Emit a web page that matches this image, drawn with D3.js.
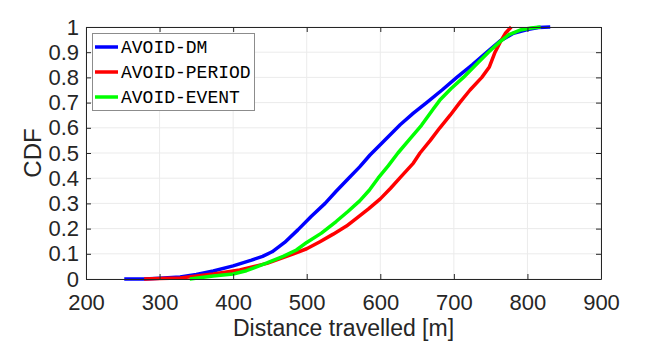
<!DOCTYPE html>
<html>
<head>
<meta charset="utf-8">
<script src="https://cdn.jsdelivr.net/npm/d3@7"></script>
<style>
  body { margin: 0; background: #fff; }
  svg { display: block; }
</style>
</head>
<body>
<div id="graph"></div>
<script>
// values (distance in m, cdf)
const dmX = [252, 280, 300, 328, 350, 373, 400, 425, 440, 453, 470, 488, 506, 525, 540, 557, 572, 586, 604, 627, 645, 663, 684, 704, 725, 745, 763, 781, 800, 815, 831];
const dmY = [0, 0, 0.003, 0.008, 0.018, 0.032, 0.052, 0.075, 0.09, 0.108, 0.145, 0.195, 0.248, 0.3, 0.348, 0.4, 0.445, 0.492, 0.545, 0.612, 0.658, 0.7, 0.75, 0.8, 0.85, 0.9, 0.945, 0.975, 0.99, 0.998, 1.0];

const periodX = [279, 300, 328, 373, 409, 446, 482, 500, 518, 536, 554, 568, 584, 600, 614, 627, 645, 654, 668, 681, 695, 708, 722, 738, 748, 756, 763, 770, 778];
const periodY = [0, 0.002, 0.004, 0.02, 0.036, 0.062, 0.1, 0.12, 0.148, 0.178, 0.21, 0.242, 0.278, 0.318, 0.36, 0.402, 0.46, 0.5, 0.55, 0.6, 0.65, 0.7, 0.75, 0.8, 0.84, 0.9, 0.94, 0.975, 1.0];

const eventX = [341, 373, 400, 418, 446, 468, 486, 500, 520, 540, 556, 572, 585, 597, 611, 624, 640, 656, 672, 681, 696, 713, 730, 747, 762, 775, 790, 805, 818];
const eventY = [0, 0.012, 0.02, 0.033, 0.064, 0.09, 0.115, 0.145, 0.182, 0.228, 0.268, 0.31, 0.352, 0.4, 0.45, 0.5, 0.555, 0.61, 0.675, 0.71, 0.755, 0.8, 0.85, 0.9, 0.94, 0.97, 0.988, 0.996, 1.0];

const seriesNames = ['AVOID-DM', 'AVOID-PERIOD', 'AVOID-EVENT'];
const seriesColors = ['#0000ff', '#ff0000', '#00ff00'];
const xTicks = [200, 300, 400, 500, 600, 700, 800, 900];
const yTicks = [0, 0.1, 0.2, 0.3, 0.4, 0.5, 0.6, 0.7, 0.8, 0.9, 1];

const W = 664, H = 348;
const plotLeft = 86, plotRight = 601, plotTop = 27, plotBottom = 279;
const axisColor = '#262626';

const svg = d3.select('#graph').append('svg')
  .attr('width', W)
  .attr('height', H)
  .style('font-family', '"Liberation Sans", Arial, sans-serif');

const x = d3.scaleLinear().domain([200, 900]).range([plotLeft, plotRight]);
const y = d3.scaleLinear().domain([0, 1]).range([plotBottom, plotTop]);

// grid
svg.append('g').selectAll('line')
  .data(xTicks)
  .enter().append('line')
  .attr('x1', d => x(d)).attr('x2', d => x(d))
  .attr('y1', plotTop).attr('y2', plotBottom)
  .attr('stroke', '#ebebeb').attr('stroke-width', 1);
svg.append('g').selectAll('line')
  .data(yTicks)
  .enter().append('line')
  .attr('x1', plotLeft).attr('x2', plotRight)
  .attr('y1', d => y(d)).attr('y2', d => y(d))
  .attr('stroke', '#ebebeb').attr('stroke-width', 1);

// curves
const data = [
  dmX.map((v, i) => [v, dmY[i]]),
  periodX.map((v, i) => [v, periodY[i]]),
  eventX.map((v, i) => [v, eventY[i]])
];
const line = d3.line().x(d => x(d[0])).y(d => y(d[1]));
svg.append('g').selectAll('path')
  .data(data)
  .enter().append('path')
  .attr('d', line)
  .attr('fill', 'none')
  .attr('stroke', (d, i) => seriesColors[i])
  .attr('stroke-width', 3.5)
  .attr('stroke-linejoin', 'round');

// axes
function styleAxis(g) {
  g.select('.domain').attr('stroke', axisColor);
  g.selectAll('.tick line').attr('stroke', axisColor);
  g.selectAll('.tick text').attr('fill', axisColor).style('font-size', '22px');
}
svg.append('g')
  .attr('transform', 'translate(0,' + plotBottom + ')')
  .call(d3.axisBottom(x).tickValues(xTicks).tickSizeInner(-5).tickSizeOuter(0).tickPadding(15))
  .call(styleAxis);
svg.append('g')
  .attr('transform', 'translate(0,' + plotTop + ')')
  .call(d3.axisTop(x).tickValues(xTicks).tickSizeInner(-5).tickSizeOuter(0).tickFormat(''))
  .call(styleAxis);
svg.append('g')
  .attr('transform', 'translate(' + plotLeft + ',0)')
  .call(d3.axisLeft(y).tickValues(yTicks).tickSizeInner(-5).tickSizeOuter(0).tickPadding(7).tickFormat(d3.format('')))
  .call(styleAxis);
svg.append('g')
  .attr('transform', 'translate(' + plotRight + ',0)')
  .call(d3.axisRight(y).tickValues(yTicks).tickSizeInner(-5).tickSizeOuter(0).tickFormat(''))
  .call(styleAxis);

// axis labels
svg.append('text')
  .attr('x', (plotLeft + plotRight) / 2)
  .attr('y', 336)
  .attr('text-anchor', 'middle')
  .attr('fill', axisColor)
  .style('font-size', '23px')
  .text('Distance travelled [m]');
svg.append('text')
  .attr('transform', 'translate(41,' + ((plotTop + plotBottom) / 2) + ') rotate(-90)')
  .attr('text-anchor', 'middle')
  .attr('fill', axisColor)
  .style('font-size', '24px')
  .text('CDF');

// legend
const legend = svg.append('g');
legend.append('rect')
  .attr('x', 92.5).attr('y', 33.5)
  .attr('width', 162).attr('height', 77)
  .attr('fill', '#fff')
  .attr('stroke', '#8c8c8c')
  .attr('stroke-width', 1);
const rows = legend.selectAll('g.row')
  .data(seriesNames)
  .enter().append('g')
  .attr('class', 'row')
  .attr('transform', (d, i) => 'translate(0,' + (47 + i * 25) + ')');
rows.append('line')
  .attr('x1', 95).attr('x2', 118)
  .attr('stroke', (d, i) => seriesColors[i])
  .attr('stroke-width', 3.5);
rows.append('text')
  .attr('x', 121)
  .attr('dy', '0.35em')
  .attr('fill', '#000')
  .style('font-family', '"Liberation Mono", "DejaVu Sans Mono", monospace')
  .style('font-size', '18px')
  .text(d => d);
</script>
</body>
</html>
